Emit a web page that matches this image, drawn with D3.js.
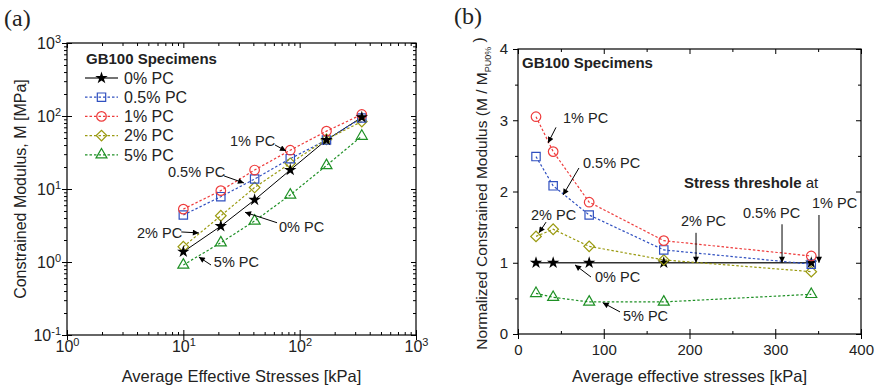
<!DOCTYPE html>
<html>
<head>
<meta charset="utf-8">
<script src="https://cdn.jsdelivr.net/npm/d3@7"></script>
<style>
  body { margin: 0; background: #fff; }
  svg { display: block; font-family: "Liberation Sans", Arial, sans-serif; }
</style>
</head>
<body>
<div id="chart"></div>
<script>
// panel (a): constrained modulus vs stress
const stressA = [10, 21, 41, 83, 170, 342];
const modPC0 = [1.38, 3.1, 7.1, 18.2, 47, 96];
const modPC05 = [4.4, 7.85, 13.7, 26, 47, 94];
const modPC1 = [5.3, 9.5, 18.2, 34, 62, 105];
const modPC2 = [1.62, 4.3, 10.5, 22.5, 48, 84];
const modPC5 = [0.91, 1.84, 3.65, 8.3, 21, 53];

// panel (b): normalized modulus
const stressB = [21, 41, 83, 170, 342];
const normPC0 = [1, 1, 1, 1, 1];
const normPC05 = [2.49, 2.08, 1.67, 1.18, 0.98];
const normPC1 = [3.05, 2.56, 1.85, 1.31, 1.095];
const normPC2 = [1.37, 1.47, 1.23, 1.04, 0.875];
const normPC5 = [0.57, 0.515, 0.45, 0.45, 0.557];

const seriesNames = ["0% PC", "0.5% PC", "1% PC", "2% PC", "5% PC"];
const seriesColors = ["#000000", "#3050c0", "#ee3b3b", "#9a9a10", "#1e9025"];
const seriesSymbols = ["star", "square", "circle", "diamond", "triangle"];

const xTicksA = [1, 10, 100, 1000];
const yTicksA = [0.1, 1, 10, 100, 1000];
const xTicksB = [0, 100, 200, 300, 400];
const yTicksB = [0, 1, 2, 3, 4];

// annotations: text position + arrow (from -> to), in data units
const notesA = [
  { text: "1% PC", x: 25.2, y: 45.5, x1: 61.4, y1: 40.1, x2: 76.3, y2: 33.2 },
  { text: "0.5% PC", x: 7.38, y: 17.1, x1: 22.4, y1: 15.1, x2: 33.2, y2: 12.1 },
  { text: "2% PC", x: 4.0, y: 2.5, x1: 9.6, y1: 2.58, x2: 13.6, y2: 2.5 },
  { text: "0% PC", x: 66.4, y: 3.02, x1: 63.9, y1: 3.45, x2: 33.9, y2: 4.8 },
  { text: "5% PC", x: 18.3, y: 1.0, x1: 17.3, y1: 0.91, x2: 13.6, y2: 1.17 }
];
const notesB = [
  { text: "1% PC", x: 52.5, y: 3.03, x1: 44.3, y1: 2.9, x2: 35.0, y2: 2.68 },
  { text: "0.5% PC", x: 75.8, y: 2.41, x1: 71.1, y1: 2.33, x2: 52.5, y2: 1.95 },
  { text: "2% PC", x: 15.2, y: 1.68, x1: 32.7, y1: 1.57, x2: 24.5, y2: 1.42 },
  { text: "0% PC", x: 89.8, y: 0.8, x1: 85.1, y1: 0.8, x2: 66.5, y2: 0.97 },
  { text: "5% PC", x: 122.4, y: 0.25, x1: 119, y1: 0.31, x2: 98.8, y2: 0.44 },
  { text: "2% PC", x: 190, y: 1.59, x1: 207.6, y1: 1.42, x2: 207.6, y2: 1.0 },
  { text: "0.5% PC", x: 262.4, y: 1.7, x1: 307.9, y1: 1.54, x2: 307.9, y2: 1.0 },
  { text: "1% PC", x: 342.9, y: 1.84, x1: 351, y1: 1.67, x2: 351, y2: 1.0 }
];

const width = 875, height = 390;
const svg = d3.select("#chart").append("svg")
  .attr("width", width).attr("height", height);

svg.append("defs").append("marker")
  .attr("id", "arrow")
  .attr("viewBox", "0 0 10 10")
  .attr("refX", 10).attr("refY", 5)
  .attr("markerWidth", 7).attr("markerHeight", 6)
  .attr("markerUnits", "userSpaceOnUse")
  .attr("orient", "auto")
  .append("path").attr("d", "M0,0L10,5L0,10Z").attr("fill", "#000");

const boxA = { left: 67, right: 416, top: 43, bottom: 335 };
const boxB = { left: 518, right: 861, top: 49, bottom: 334 };

const xA = d3.scaleLog().domain([1, 1000]).range([boxA.left, boxA.right]);
const yA = d3.scaleLog().domain([0.1, 1000]).range([boxA.bottom, boxA.top]);
const xB = d3.scaleLinear().domain([0, 400]).range([boxB.left, boxB.right]);
const yB = d3.scaleLinear().domain([0, 4]).range([boxB.bottom, boxB.top]);

function symbolPath(kind) {
  if (kind === "star") return d3.symbol(d3.symbolStar, 48)();
  if (kind === "square") return d3.symbol(d3.symbolSquare, 70)();
  if (kind === "circle") return d3.symbol(d3.symbolCircle, 72)();
  if (kind === "diamond") return d3.symbol(d3.symbolSquare, 56)();
  return d3.symbol(d3.symbolTriangle, 52)();
}

function drawMarker(g, kind, color, x, y) {
  const p = g.append("path")
    .attr("d", symbolPath(kind))
    .attr("transform", `translate(${x},${y})` + (kind === "diamond" ? " rotate(45)" : ""));
  if (kind === "star") p.attr("fill", "#000").attr("stroke", "none");
  else p.attr("fill", "none").attr("stroke", color).attr("stroke-width", 1.2);
}

function styleAxis(g) {
  g.select(".domain").remove();
  g.selectAll(".tick line").attr("stroke", "#000");
}

function supLabels(g) {
  g.selectAll(".tick text").each(function(d) {
    const t = d3.select(this).text("");
    t.append("tspan").text("10");
    t.append("tspan").attr("dy", "-0.55em").attr("font-size", "11px")
      .text(Math.round(Math.log10(d)));
  });
}

// ---------- panel (a) ----------
const gA = svg.append("g");
const minorXA = xA.ticks().filter(v => !xTicksA.includes(v));
const minorYA = yA.ticks().filter(v => !yTicksA.some(t => Math.abs(t - v) < 1e-9));

gA.append("g").attr("transform", `translate(0,${boxA.bottom})`)
  .call(d3.axisBottom(xA).tickValues(xTicksA).tickSize(5).tickPadding(1).tickSizeOuter(0))
  .call(styleAxis).call(supLabels)
  .selectAll("text").attr("font-size", "16px").attr("fill", "#222");
gA.append("g").attr("transform", `translate(0,${boxA.bottom})`)
  .call(d3.axisBottom(xA).tickValues(xTicksA).tickSize(-5).tickFormat("").tickSizeOuter(0)).call(styleAxis);
gA.append("g").attr("transform", `translate(0,${boxA.bottom})`)
  .call(d3.axisBottom(xA).tickValues(minorXA).tickSize(-3).tickFormat("").tickSizeOuter(0)).call(styleAxis);
gA.append("g").attr("transform", `translate(0,${boxA.top})`)
  .call(d3.axisTop(xA).tickValues(xTicksA).tickSize(-5).tickFormat("").tickSizeOuter(0)).call(styleAxis);
gA.append("g").attr("transform", `translate(0,${boxA.top})`)
  .call(d3.axisTop(xA).tickValues(minorXA).tickSize(-3).tickFormat("").tickSizeOuter(0)).call(styleAxis);

gA.append("g").attr("transform", `translate(${boxA.left},0)`)
  .call(d3.axisLeft(yA).tickValues(yTicksA).tickSize(5).tickPadding(1).tickSizeOuter(0))
  .call(styleAxis).call(supLabels)
  .selectAll("text").attr("font-size", "16px").attr("fill", "#222");
gA.append("g").attr("transform", `translate(${boxA.left},0)`)
  .call(d3.axisLeft(yA).tickValues(yTicksA).tickSize(-5).tickFormat("").tickSizeOuter(0)).call(styleAxis);
gA.append("g").attr("transform", `translate(${boxA.left},0)`)
  .call(d3.axisLeft(yA).tickValues(minorYA).tickSize(3).tickFormat("").tickSizeOuter(0)).call(styleAxis);
gA.append("g").attr("transform", `translate(${boxA.right},0)`)
  .call(d3.axisRight(yA).tickValues(yTicksA).tickSize(-5).tickFormat("").tickSizeOuter(0)).call(styleAxis);
gA.append("g").attr("transform", `translate(${boxA.right},0)`)
  .call(d3.axisRight(yA).tickValues(minorYA).tickSize(-3).tickFormat("").tickSizeOuter(0)).call(styleAxis);

gA.append("rect")
  .attr("x", boxA.left).attr("y", boxA.top)
  .attr("width", boxA.right - boxA.left).attr("height", boxA.bottom - boxA.top)
  .attr("fill", "none").attr("stroke", "#000").attr("stroke-width", 1.2);

const seriesA = [modPC0, modPC05, modPC1, modPC2, modPC5];
const lineA = d3.line().x(d => xA(d[0])).y(d => yA(d[1]));
seriesA.forEach((vals, i) => {
  const pts = stressA.map((s, j) => [s, vals[j]]);
  gA.append("path").datum(pts)
    .attr("d", lineA)
    .attr("fill", "none")
    .attr("stroke", seriesColors[i])
    .attr("stroke-width", i === 0 ? 1 : 1.2)
    .attr("stroke-dasharray", i === 0 ? null : "2.5,2");
});
[4, 3, 1, 2, 0].forEach(i => {
  stressA.forEach((s, j) => drawMarker(gA, seriesSymbols[i], seriesColors[i], xA(s), yA(seriesA[i][j])));
});

// legend
const legend = gA.append("g");
legend.append("text").attr("x", 86).attr("y", 64)
  .attr("font-size", "15px").attr("font-weight", "bold").attr("fill", "#222")
  .text("GB100 Specimens");
seriesNames.forEach((name, i) => {
  const cy = 78 + i * 19.2;
  legend.append("line")
    .attr("x1", 85).attr("x2", 118).attr("y1", cy).attr("y2", cy)
    .attr("stroke", i === 0 ? "#444" : seriesColors[i])
    .attr("stroke-width", i === 0 ? 1.6 : 1.2)
    .attr("stroke-dasharray", i === 0 ? null : "2.5,2");
  drawMarker(legend, seriesSymbols[i], seriesColors[i], 101.5, cy);
  legend.append("text").attr("x", 124).attr("y", cy).attr("dy", "0.36em")
    .attr("font-size", "16px").attr("fill", "#222").text(name);
});

function drawNotes(g, notes, xs, ys) {
  notes.forEach(n => {
    g.append("text").attr("x", xs(n.x)).attr("y", ys(n.y)).attr("dy", "0.36em")
      .attr("font-size", "14.5px").attr("fill", "#222").text(n.text);
    g.append("line")
      .attr("x1", xs(n.x1)).attr("y1", ys(n.y1))
      .attr("x2", xs(n.x2)).attr("y2", ys(n.y2))
      .attr("stroke", "#000").attr("stroke-width", 1)
      .attr("marker-end", "url(#arrow)");
  });
}
drawNotes(gA, notesA, xA, yA);

gA.append("text")
  .attr("x", (boxA.left + boxA.right) / 2).attr("y", 382)
  .attr("text-anchor", "middle").attr("font-size", "16.5px").attr("fill", "#222")
  .text("Average Effective Stresses [kPa]");
gA.append("text")
  .attr("transform", `translate(26,${(boxA.top + boxA.bottom) / 2}) rotate(-90)`)
  .attr("text-anchor", "middle").attr("font-size", "16px").attr("fill", "#222")
  .text("Constrained Modulus, M [MPa]");
svg.append("text").attr("x", 4).attr("y", 26)
  .attr("font-family", "'Liberation Serif', 'Times New Roman', serif")
  .attr("font-size", "24px").attr("fill", "#222").text("(a)");

// ---------- panel (b) ----------
const gB = svg.append("g");
const minorXB = d3.range(50, 400, 100);
const minorYB = d3.range(0.5, 4, 1);

gB.append("g").attr("transform", `translate(0,${boxB.bottom})`)
  .call(d3.axisBottom(xB).tickValues(xTicksB).tickSize(5).tickPadding(5).tickSizeOuter(0))
  .call(styleAxis)
  .selectAll("text").attr("font-size", "15px").attr("fill", "#222");
gB.append("g").attr("transform", `translate(0,${boxB.bottom})`)
  .call(d3.axisBottom(xB).tickValues(xTicksB).tickSize(-5).tickFormat("").tickSizeOuter(0)).call(styleAxis);
gB.append("g").attr("transform", `translate(0,${boxB.bottom})`)
  .call(d3.axisBottom(xB).tickValues(minorXB).tickSize(-3).tickFormat("").tickSizeOuter(0)).call(styleAxis);
gB.append("g").attr("transform", `translate(0,${boxB.top})`)
  .call(d3.axisTop(xB).tickValues(xTicksB).tickSize(-5).tickFormat("").tickSizeOuter(0)).call(styleAxis);
gB.append("g").attr("transform", `translate(0,${boxB.top})`)
  .call(d3.axisTop(xB).tickValues(minorXB).tickSize(-3).tickFormat("").tickSizeOuter(0)).call(styleAxis);

gB.append("g").attr("transform", `translate(${boxB.left},0)`)
  .call(d3.axisLeft(yB).tickValues(yTicksB).tickFormat(d3.format("d")).tickSize(5).tickPadding(5).tickSizeOuter(0))
  .call(styleAxis)
  .selectAll("text").attr("font-size", "15px").attr("fill", "#222");
gB.append("g").attr("transform", `translate(${boxB.left},0)`)
  .call(d3.axisLeft(yB).tickValues(minorYB).tickSize(3).tickFormat("").tickSizeOuter(0)).call(styleAxis);
gB.append("g").attr("transform", `translate(${boxB.right},0)`)
  .call(d3.axisRight(yB).tickValues(yTicksB).tickSize(-5).tickFormat("").tickSizeOuter(0)).call(styleAxis);
gB.append("g").attr("transform", `translate(${boxB.right},0)`)
  .call(d3.axisRight(yB).tickValues(minorYB).tickSize(-3).tickFormat("").tickSizeOuter(0)).call(styleAxis);

gB.append("rect")
  .attr("x", boxB.left).attr("y", boxB.top)
  .attr("width", boxB.right - boxB.left).attr("height", boxB.bottom - boxB.top)
  .attr("fill", "none").attr("stroke", "#000").attr("stroke-width", 1.2);

const seriesB = [normPC0, normPC05, normPC1, normPC2, normPC5];
const lineB = d3.line().x(d => xB(d[0])).y(d => yB(d[1]));
seriesB.forEach((vals, i) => {
  const pts = stressB.map((s, j) => [s, vals[j]]);
  gB.append("path").datum(pts)
    .attr("d", lineB)
    .attr("fill", "none")
    .attr("stroke", i === 0 ? "#333" : seriesColors[i])
    .attr("stroke-width", i === 0 ? 1.3 : 1.2)
    .attr("stroke-dasharray", i === 0 ? null : "2.5,2");
});
[0, 4, 3, 1, 2].forEach(i => {
  stressB.forEach((s, j) => drawMarker(gB, seriesSymbols[i], seriesColors[i], xB(s), yB(seriesB[i][j])));
});

gB.append("text").attr("x", 522).attr("y", 68)
  .attr("font-size", "15px").attr("font-weight", "bold").attr("fill", "#222")
  .text("GB100 Specimens");
const thr = gB.append("text").attr("x", xB(193.6)).attr("y", yB(2.12)).attr("dy", "0.36em")
  .attr("font-size", "15px").attr("fill", "#222");
thr.append("tspan").attr("font-weight", "bold").text("Stress threshole");
thr.append("tspan").text(" at");

drawNotes(gB, notesB, xB, yB);

gB.append("text")
  .attr("x", (boxB.left + boxB.right) / 2).attr("y", 382)
  .attr("text-anchor", "middle").attr("font-size", "16.5px").attr("fill", "#222")
  .text("Average effective stresses [kPa]");
const yLabB = gB.append("text")
  .attr("transform", `translate(487,${(boxB.top + boxB.bottom) / 2 + 2}) rotate(-90)`)
  .attr("text-anchor", "middle").attr("font-size", "15.5px").attr("fill", "#222");
yLabB.append("tspan").text("Normalized Constrained Modulus (M / M");
yLabB.append("tspan").attr("font-size", "9px").attr("dy", "0.4em").text("PU0%");
yLabB.append("tspan").attr("dy", "-0.4em").text(" )");
svg.append("text").attr("x", 454).attr("y", 24)
  .attr("font-family", "'Liberation Serif', 'Times New Roman', serif")
  .attr("font-size", "24px").attr("fill", "#222").text("(b)");
</script>
</body>
</html>
